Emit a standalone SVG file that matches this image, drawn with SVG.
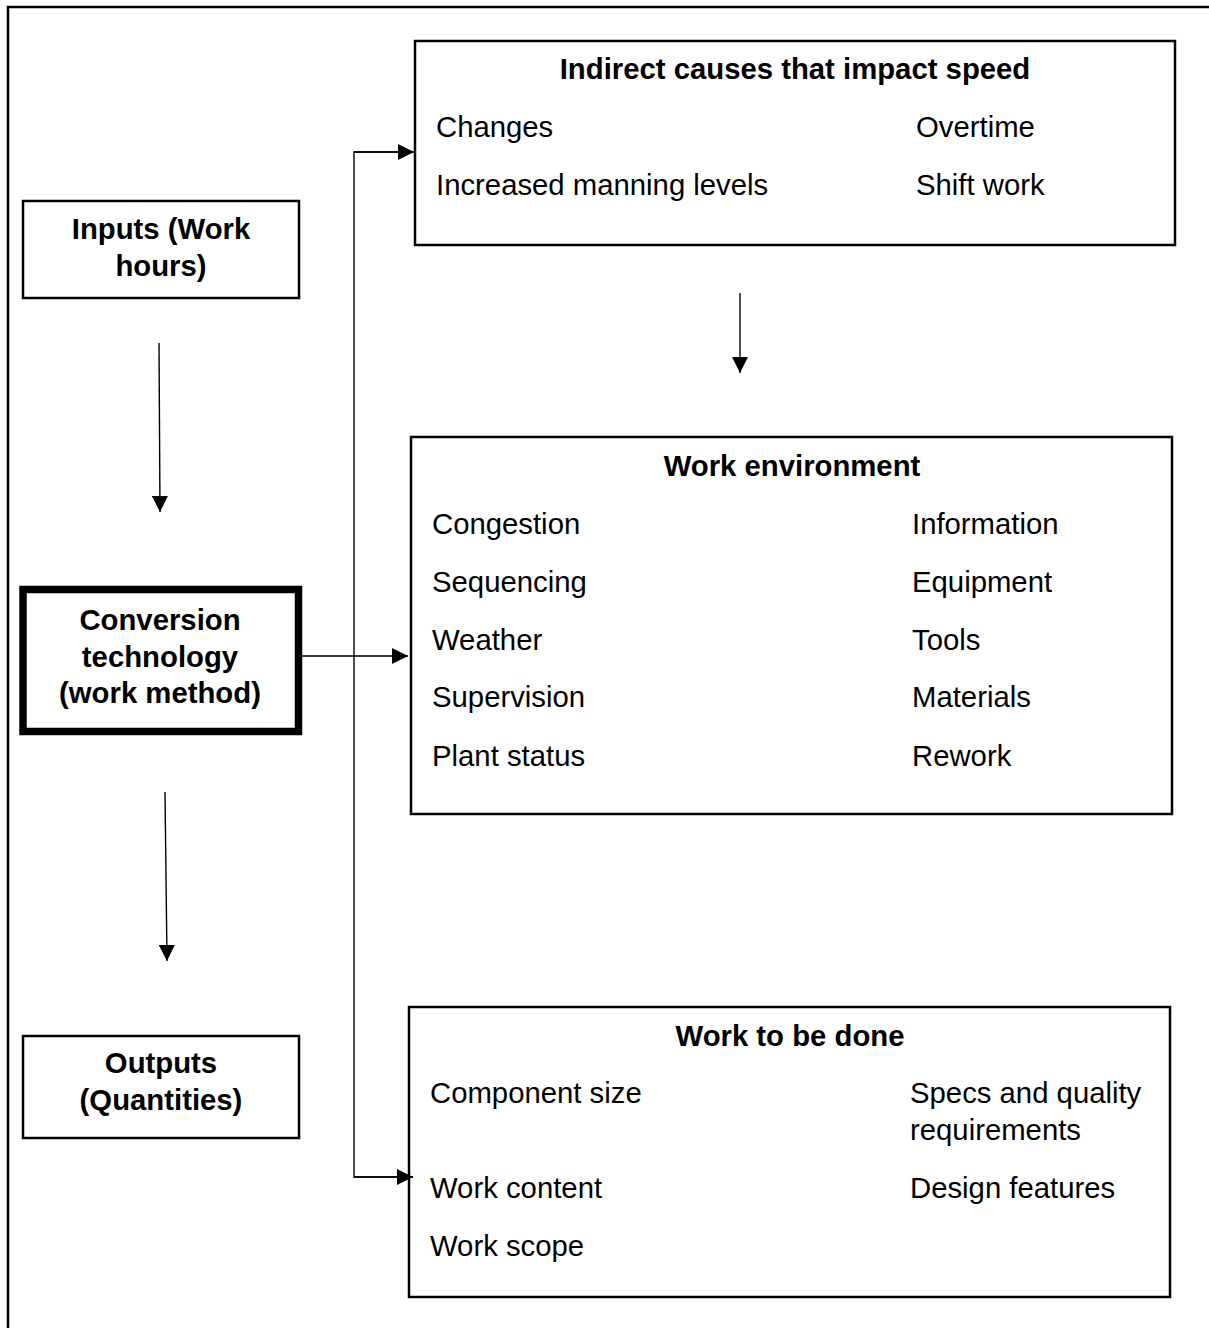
<svg xmlns="http://www.w3.org/2000/svg" width="1209" height="1328" viewBox="0 0 1209 1328">
<style>
.box{fill:none;stroke:#000;stroke-width:2.5}
.thick{fill:none;stroke:#000;stroke-width:7.5}
.t{font-family:"Liberation Sans",Arial,sans-serif;font-size:29.3px;fill:#000}
.b{font-weight:bold;text-anchor:middle}
.c{fill:none;stroke:#000;stroke-width:1.4}
</style>
<defs>
<marker id="ah" markerUnits="userSpaceOnUse" markerWidth="16" markerHeight="16" refX="16" refY="8" orient="auto">
<path d="M0,0 L16,8 L0,16 z" fill="#000"/>
</marker>
</defs>
<rect width="1209" height="1328" fill="#fff"/>
<rect x="8" y="7" width="1300" height="1400" class="box"/>
<g id="inputs">
<rect x="23" y="201" width="276" height="97" class="box"/>
<text class="t b" x="161" y="239">Inputs (Work</text>
<text class="t b" x="161" y="276">hours)</text>
</g>
<g id="conversion">
<rect x="23" y="589.5" width="275.5" height="142" class="thick"/>
<text class="t b" x="160" y="630">Conversion</text>
<text class="t b" x="160" y="667">technology</text>
<text class="t b" x="160" y="703">(work method)</text>
</g>
<g id="outputs">
<rect x="23" y="1036" width="276" height="102" class="box"/>
<text class="t b" x="161" y="1073">Outputs</text>
<text class="t b" x="161" y="1110">(Quantities)</text>
</g>
<g id="indirect">
<rect x="415" y="41" width="760" height="204" class="box"/>
<text class="t b" x="795" y="79">Indirect causes that impact speed</text>
<text class="t" x="436" y="137">Changes</text>
<text class="t" x="916" y="137">Overtime</text>
<text class="t" x="436" y="195">Increased manning levels</text>
<text class="t" x="916" y="195">Shift work</text>
</g>
<g id="environment">
<rect x="411" y="437" width="761" height="377" class="box"/>
<text class="t b" x="792" y="476">Work environment</text>
<text class="t" x="432" y="534">Congestion</text>
<text class="t" x="912" y="534">Information</text>
<text class="t" x="432" y="592">Sequencing</text>
<text class="t" x="912" y="592">Equipment</text>
<text class="t" x="432" y="650">Weather</text>
<text class="t" x="912" y="650">Tools</text>
<text class="t" x="432" y="707">Supervision</text>
<text class="t" x="912" y="707">Materials</text>
<text class="t" x="432" y="766">Plant status</text>
<text class="t" x="912" y="766">Rework</text>
</g>
<g id="workdone">
<rect x="409" y="1007" width="761" height="290" class="box"/>
<text class="t b" x="790" y="1046">Work to be done</text>
<text class="t" x="430" y="1103">Component size</text>
<text class="t" x="910" y="1103">Specs and quality</text>
<text class="t" x="910" y="1140">requirements</text>
<text class="t" x="430" y="1198">Work content</text>
<text class="t" x="910" y="1198">Design features</text>
<text class="t" x="430" y="1256">Work scope</text>
</g>
<g id="connectors">
<line x1="159" y1="343" x2="160" y2="512" class="c" marker-end="url(#ah)"/>
<line x1="165" y1="792" x2="167" y2="961" class="c" marker-end="url(#ah)"/>
<line x1="740" y1="293" x2="740" y2="373" class="c" marker-end="url(#ah)"/>
<line x1="302" y1="656" x2="408" y2="656" class="c" marker-end="url(#ah)"/>
<polyline points="414,152 354,152 354,1177 413,1177" class="c"/>
<line x1="354" y1="152" x2="414" y2="152" class="c" marker-end="url(#ah)"/>
<line x1="354" y1="1177" x2="413" y2="1177" class="c" marker-end="url(#ah)"/>
</g>
</svg>
